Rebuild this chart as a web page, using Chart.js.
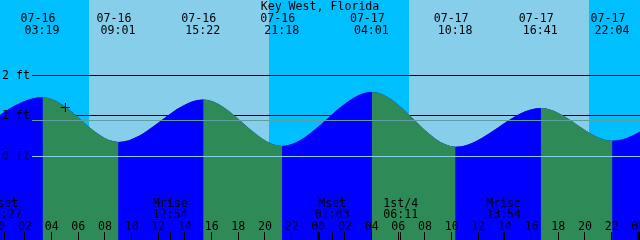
<!DOCTYPE html>
<html>
<head>
<meta charset="utf-8">
<script src="https://cdn.jsdelivr.net/npm/chart.js@4.4.1/dist/chart.umd.min.js"></script>
<style>
  html, body { margin: 0; padding: 0; background: #00bfff; }
  canvas { display: block; }
</style>
</head>
<body>
<canvas id="tide" width="640" height="240"></canvas>
<script>
const place = 'Key West, Florida';

// highs and lows (first and last one fall just outside the window)
const tideDates = ['07-15', '07-16', '07-16', '07-16', '07-16', '07-17', '07-17', '07-17', '07-17', '07-18'];
const tideTimes = ['20:57', '03:19', '09:01', '15:22', '21:18', '04:01', '10:18', '16:41', '22:04', '04:36'];
const tideFeet = [0.30, 1.46, 0.36, 1.41, 0.26, 1.59, 0.24, 1.20, 0.39, 1.75];

const moonDates = ['07-16', '07-16', '07-17', '07-17', '07-17'];
const moonTimes = ['00:27', '12:54', '01:03', '06:11', '13:54'];
const moonEvents = ['Mset', 'Mrise', 'Mset', '1st/4', 'Mrise'];

const sunDates = ['07-16', '07-17'];
const sunrise = ['06:48', '06:48'];
const sunset = ['20:18', '20:18'];

const depthFeet = [0, 1, 2];
const depthLabels = ['0 ft', '1 ft', '2 ft'];
const meanLevel = 0.89;

const hourLabels = ['00', '02', '04', '06', '08', '10', '12', '14', '16', '18', '20', '22'];

const nowDate = '07-16';
const nowTime = '05:02';
const nowFeet = 1.21;

const night = '#00bfff', day = '#87ceeb';
const flood = '#0000ff', ebb = '#2e8b57';
const font = '11.6px "DejaVu Sans Mono", monospace';

// hours since 07-16 00:00
function hrs(date, time) {
    const d = +date.slice(3) - 16;
    const t = time.split(':');
    return d * 24 + (+t[0]) + (+t[1]) / 60;
}

const tidePoints = tideFeet.map((v, i) => ({ x: hrs(tideDates[i], tideTimes[i]), y: v }));

const tidePlugin = {
    id: 'tidePlugin',
    beforeDraw(chart) {
        const ctx = chart.ctx, xs = chart.scales.x;
        ctx.save();
        ctx.fillStyle = night;
        ctx.fillRect(0, 0, chart.width, chart.height);
        ctx.fillStyle = day;
        for (let i = 0; i < sunDates.length; i++) {
            const a = Math.round(xs.getPixelForValue(hrs(sunDates[i], sunrise[i])));
            const b = Math.round(xs.getPixelForValue(hrs(sunDates[i], sunset[i])));
            ctx.fillRect(a, 0, b - a, chart.height);
        }
        ctx.restore();
    },
    beforeDatasetsDraw(chart) {
        const ctx = chart.ctx, ys = chart.scales.y;
        ctx.save();
        ctx.strokeStyle = '#000';
        ctx.lineWidth = 1;
        depthFeet.forEach(v => {
            const y = Math.floor(ys.getPixelForValue(v)) + 0.5;
            ctx.beginPath();
            ctx.moveTo(32, y);
            ctx.lineTo(chart.width, y);
            ctx.stroke();
        });
        ctx.restore();
    },
    afterDatasetsDraw(chart) {
        const ctx = chart.ctx, xs = chart.scales.x, ys = chart.scales.y;
        ctx.save();
        ctx.lineWidth = 1;

        // mean level and datum drawn over the water
        let y = Math.floor(ys.getPixelForValue(meanLevel)) + 0.5;
        ctx.strokeStyle = '#5f9ea0';
        ctx.beginPath(); ctx.moveTo(32, y); ctx.lineTo(chart.width, y); ctx.stroke();
        y = Math.floor(ys.getPixelForValue(0)) + 0.5;
        ctx.strokeStyle = '#87ceeb';
        ctx.beginPath(); ctx.moveTo(32, y); ctx.lineTo(chart.width, y); ctx.stroke();

        ctx.font = font;
        ctx.fillStyle = '#000';
        ctx.textBaseline = 'alphabetic';

        ctx.textAlign = 'left';
        depthFeet.forEach((v, i) => {
            const yy = Math.floor(ys.getPixelForValue(v)) + 4;
            ctx.fillText(depthLabels[i], 2, yy);
        });

        ctx.textAlign = 'center';
        ctx.fillText(place, chart.width / 2, 10);

        // tide times along the top
        for (let i = 0; i < tideTimes.length; i++) {
            const x = xs.getPixelForValue(hrs(tideDates[i], tideTimes[i]));
            ctx.fillText(tideDates[i], x - 4.5, 22);
            ctx.fillText(tideTimes[i], x - 0.5, 34);
        }

        // moon events
        ctx.strokeStyle = '#000';
        for (let i = 0; i < moonEvents.length; i++) {
            const x = xs.getPixelForValue(hrs(moonDates[i], moonTimes[i]));
            ctx.fillText(moonEvents[i], x, 207);
            ctx.fillText(moonTimes[i], x, 218);
            const c = Math.floor(x);
            const cols = moonEvents[i] === '1st/4' ? [c - 2, c] : [c];
            cols.forEach(cx => {
                ctx.beginPath(); ctx.moveTo(cx + 0.5, 232); ctx.lineTo(cx + 0.5, 240); ctx.stroke();
            });
        }

        // hour ticks
        for (let h = 0; h <= 48; h += 2) {
            const x = xs.getPixelForValue(h);
            ctx.fillText(hourLabels[(h % 24) / 2], x, 230);
            const c = Math.floor(x);
            if (h % 24 === 0) {
                ctx.fillRect(c - 1, 232, 3, 8);
            } else {
                ctx.beginPath(); ctx.moveTo(c + 0.5, 232); ctx.lineTo(c + 0.5, 240); ctx.stroke();
            }
        }
        ctx.restore();
    }
};

new Chart(document.getElementById('tide'), {
    type: 'line',
    data: {
        datasets: [{
            label: 'mark',
            data: [{ x: hrs(nowDate, nowTime), y: nowFeet }],
            showLine: false,
            pointStyle: 'cross',
            pointRadius: 4.5,
            borderColor: '#000',
            borderWidth: 1,
            order: 1
        }, {
            label: 'tide',
            data: tidePoints,
            fill: 'start',
            borderWidth: 0,
            borderColor: 'rgba(0,0,0,0)',
            pointRadius: 0,
            cubicInterpolationMode: 'monotone',
            segment: {
                backgroundColor: c => c.p1.parsed.y > c.p0.parsed.y ? flood : ebb
            },
            order: 2
        }, {
            // plain fill underneath so the seams between the coloured parts don't show the sky
            label: 'tide-base',
            data: tidePoints,
            fill: 'start',
            backgroundColor: flood,
            borderWidth: 0,
            borderColor: 'rgba(0,0,0,0)',
            pointRadius: 0,
            cubicInterpolationMode: 'monotone',
            order: 3
        }]
    },
    options: {
        responsive: false,
        animation: false,
        devicePixelRatio: 1,
        layout: { padding: 0, autoPadding: false },
        plugins: { legend: { display: false }, tooltip: { enabled: false } },
        scales: {
            x: { type: 'linear', min: 0.1275, max: 48.1275, display: false },
            y: { min: -2.062, max: 3.864, display: false }
        }
    },
    plugins: [tidePlugin]
});
</script>
</body>
</html>
